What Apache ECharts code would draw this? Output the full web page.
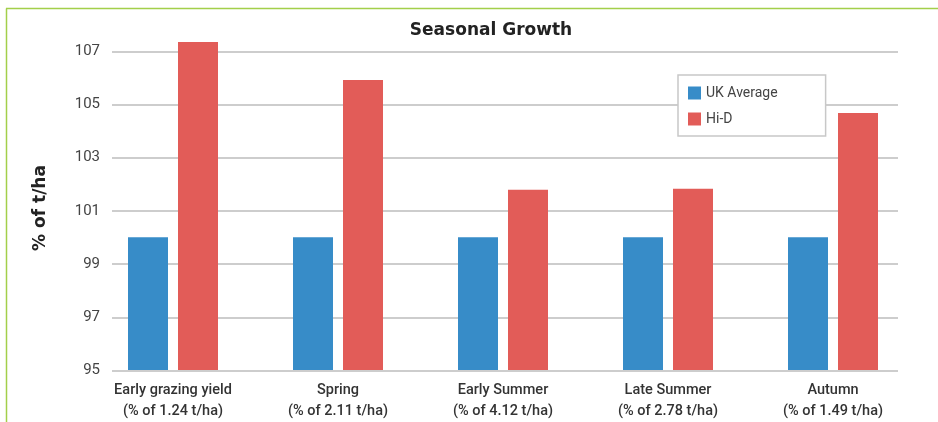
<!DOCTYPE html>
<html>
<head>
<meta charset="utf-8">
<script src="https://cdn.jsdelivr.net/npm/echarts@6/dist/echarts.min.js"></script>
<style>html,body{margin:0;padding:0;background:#fff;}#c{width:938px;height:422px;}</style>
</head>
<body>
<div id="c"></div>
<script>
const categories = ['Early grazing yield\n(% of 1.24 t/ha)', 'Spring\n(% of 2.11 t/ha)', 'Early Summer\n(% of 4.12 t/ha)', 'Late Summer\n(% of 2.78 t/ha)', 'Autumn\n(% of 1.49 t/ha)'];
const ukAverage = [100, 100, 100, 100, 100];
const hiD = [107.35, 105.92, 101.79, 101.82, 104.68];
const seriesNames = ['UK Average', 'Hi-D'];

const chart = echarts.init(document.getElementById('c'));
const gridTop = 51.3, gridBottom = 422 - 370.5;
const pxPerUnit = (370.5 - 51.3) / 12;
const barMax = 107.5;
chart.setOption({
  animation: false,
  backgroundColor: '#fff',
  textStyle: { fontFamily: 'Roboto' },
  title: {
    text: 'Seasonal Growth', left: 486, top: 17, textAlign: 'center',
    textStyle: { fontFamily: 'DejaVu Sans', fontWeight: 'bold', fontSize: 17, color: '#222' }
  },
  legend: {
    data: seriesNames, orient: 'vertical', left: 678, top: 75,
    backgroundColor: '#fff', borderColor: '#c8c8c8', borderWidth: 1.5,
    padding: [11, 48, 10, 10], itemWidth: 13, itemHeight: 13, itemGap: 12, icon: 'rect',
    textStyle: { fontFamily: 'Roboto', fontSize: 14, color: '#444' }
  },
  graphic: [
    { type: 'line', shape: { x1: 6, y1: 8.5, x2: 938, y2: 8.5 }, style: { stroke: '#a3cf4a', lineWidth: 1.5 } },
    { type: 'line', shape: { x1: 6.5, y1: 8.5, x2: 6.5, y2: 422 }, style: { stroke: '#a3cf4a', lineWidth: 1.5 } },
    { type: 'text', x: 41, y: 208, rotation: Math.PI / 2, style: { text: '% of t/ha', x: 0, y: 0, textAlign: 'center', textVerticalAlign: 'middle', font: 'bold 17px "DejaVu Sans"', fill: '#222' } }
  ],
  grid: [
    { left: 112, right: 40, top: gridTop, bottom: gridBottom },
    { left: 90.5, width: 825, top: gridTop - (barMax - 107) * pxPerUnit, bottom: gridBottom }
  ],
  xAxis: [
    { gridIndex: 0, type: 'value', show: false, min: 0, max: 1 },
    { gridIndex: 1, type: 'category', data: categories,
      axisLine: { show: false }, axisTick: { show: false },
      axisLabel: { margin: 10, lineHeight: 21, fontFamily: 'Roboto', fontSize: 14.5, fontWeight: 500, color: '#333' } }
  ],
  yAxis: [
    { gridIndex: 0, type: 'value', min: 95, max: 107, interval: 2,
      axisLine: { show: false }, axisTick: { show: false },
      axisLabel: { margin: 12, fontFamily: 'Roboto', fontSize: 15, color: '#444' },
      splitLine: { lineStyle: { color: '#bdbdbd', width: 1.5 } } },
    { gridIndex: 1, type: 'value', min: 95, max: barMax, show: false, splitLine: { show: false } }
  ],
  series: [
    { name: seriesNames[0], type: 'bar', xAxisIndex: 1, yAxisIndex: 1, data: ukAverage, barWidth: 40, barGap: '25%', itemStyle: { color: '#378cc8' } },
    { name: seriesNames[1], type: 'bar', xAxisIndex: 1, yAxisIndex: 1, data: hiD, barWidth: 40, barGap: '25%', itemStyle: { color: '#e25c58' } }
  ]
});
</script>
</body>
</html>
